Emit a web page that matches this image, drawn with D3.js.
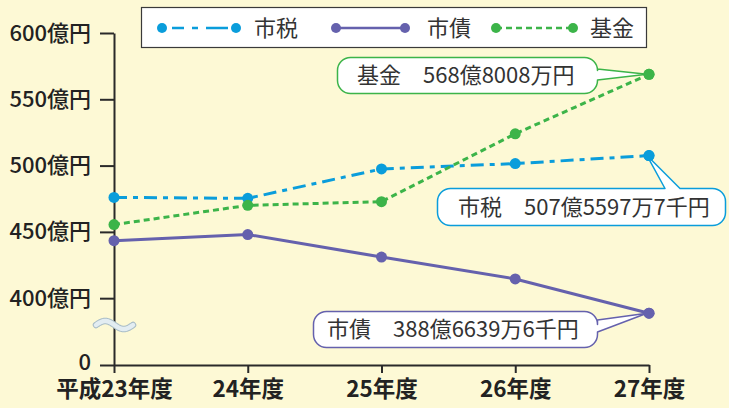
<!DOCTYPE html>
<html>
<head>
<meta charset="utf-8">
<script src="https://cdn.jsdelivr.net/npm/d3@7"></script>
<style>
  body { margin: 0; background: #fdf9d5; }
  svg { display: block; font-family: "Noto Sans CJK JP", "Noto Sans", sans-serif; }
</style>
</head>
<body>
<div id="chart"></div>
<script>
// data
let categories = ["平成23年度", "24年度", "25年度", "26年度", "27年度"];
let taxValues = [476, 475.3, 497.5, 501.5, 507.56];     // 市税
let bondValues = [443.4, 448, 431, 414.5, 388.66];     // 市債
let fundValues = [455.5, 470, 472.8, 524, 568.8];      // 基金
let yTicks = [0, 400, 450, 500, 550, 600];
let seriesNames = ["市税", "市債", "基金"];
let calloutTexts = ["市税\u3000507億5597万7千円", "市債\u3000388億6639万6千円", "基金\u3000568億8008万円"];

let W = 729, H = 408;
let COLORS = { "市税": "#0a9ddb", "市債": "#6561ad", "基金": "#3cb449" };
let DASHES = { "市税": "13,6,5,6", "市債": null, "基金": "6,4" };
let FONT = "\"Noto Sans CJK JP\", sans-serif";

let svg = d3.select("#chart").append("svg")
    .attr("width", W)
    .attr("height", H);

svg.append("rect").attr("width", W).attr("height", H).attr("fill", "#fdf9d5");

// scales, with a broken axis: 0 at the bottom, the real scale starting at the break (~380)
let x = d3.scalePoint().domain(categories).range([114, 649]);
let y = d3.scaleLinear().domain([0, 380, 600]).range([365, 324.7, 33]);

// y axis
let yAxis = svg.append("g")
    .attr("transform", "translate(114,0)")
    .call(d3.axisLeft(y)
        .tickValues(yTicks)
        .tickSize(14)
        .tickSizeOuter(0)
        .tickPadding(9)
        .tickFormat(d => d === 0 ? "0" : d + "億円"));
yAxis.select(".domain").attr("stroke", "#2a2a2a").attr("stroke-width", 2);
yAxis.selectAll(".tick line").attr("stroke", "#2a2a2a").attr("stroke-width", 2);
yAxis.selectAll(".tick text")
    .attr("fill", "#222")
    .attr("font-size", 22)
    .attr("font-weight", 500)
    .attr("font-family", FONT);
// the "0" label sits a touch higher so it clears the category labels
yAxis.selectAll(".tick text").filter(d => d === 0).attr("dy", "0.2em");

// x axis
let xAxis = svg.append("g")
    .attr("transform", "translate(0,365)")
    .call(d3.axisBottom(x).tickSize(8).tickSizeOuter(0).tickPadding(8));
xAxis.select(".domain").attr("stroke", "#2a2a2a").attr("stroke-width", 2);
xAxis.selectAll(".tick line").attr("stroke", "#2a2a2a").attr("stroke-width", 2);
xAxis.selectAll(".tick text")
    .attr("fill", "#222")
    .attr("font-size", 22.5)
    .attr("font-weight", "bold")
    .attr("font-family", FONT);

// axis break mark
let wave = d3.range(0, 37.5, 0.5).map(t => [96 + t, 325 - 4 * Math.sin(t / 37 * 2 * Math.PI)]);
let waveLine = d3.line();
svg.append("path").attr("d", waveLine(wave))
    .attr("fill", "none").attr("stroke", "#a9bdc7").attr("stroke-width", 6.5)
    .attr("stroke-linecap", "round");
svg.append("path").attr("d", waveLine(wave))
    .attr("fill", "none").attr("stroke", "#e3edf2").attr("stroke-width", 4.5)
    .attr("stroke-linecap", "round");

// series
let series = [
    { name: "市税", values: taxValues },
    { name: "市債", values: bondValues },
    { name: "基金", values: fundValues }
];

let line = d3.line()
    .x((d, i) => x(categories[i]))
    .y(d => y(d));

let seriesGroups = svg.append("g").selectAll("g")
    .data(series)
    .join("g");

seriesGroups.append("path")
    .attr("d", d => line(d.values))
    .attr("fill", "none")
    .attr("stroke", d => COLORS[d.name])
    .attr("stroke-width", 3)
    .attr("stroke-dasharray", d => DASHES[d.name]);

seriesGroups.selectAll("circle")
    .data(d => d.values.map((v, i) => ({ name: d.name, v: v, i: i })))
    .join("circle")
    .attr("cx", d => x(categories[d.i]))
    .attr("cy", d => y(d.v))
    .attr("r", 5.5)
    .attr("fill", d => COLORS[d.name]);

// legend
let legend = svg.append("g");
legend.append("rect")
    .attr("x", 141.5).attr("y", 7.5)
    .attr("width", 505).attr("height", 40)
    .attr("fill", "#fff")
    .attr("stroke", "#3a3a3a")
    .attr("stroke-width", 1.2);

let legendItems = [
    { name: seriesNames[0], x0: 162, x1: 236, tx: 254 },
    { name: seriesNames[1], x0: 336, x1: 405, tx: 427 },
    { name: seriesNames[2], x0: 496, x1: 573, tx: 590 }
];
legendItems.forEach(item => {
    let g = legend.append("g");
    g.append("line")
        .attr("x1", item.x0).attr("x2", item.x1)
        .attr("y1", 28).attr("y2", 28)
        .attr("stroke", COLORS[item.name])
        .attr("stroke-width", 2.5)
        .attr("stroke-dasharray", item.name === "市税" ? "0,10,12,8,6,8,12" : DASHES[item.name]);
    g.selectAll("circle")
        .data([item.x0, item.x1])
        .join("circle")
        .attr("cx", d => d).attr("cy", 28).attr("r", 5)
        .attr("fill", COLORS[item.name]);
    g.append("text")
        .attr("x", item.tx).attr("y", 28)
        .attr("dy", "0.36em")
        .attr("font-size", 22)
        .attr("fill", "#333")
        .text(item.name);
});

// callouts: rounded box with a pointer to the last point of each series
function calloutPath(b, tip) {
    let r = 13;
    let x0 = b.x, y0 = b.y, x1 = b.x + b.w, y1 = b.y + b.h;
    let p = d3.path();
    if (b.side === "top") {
        p.moveTo(x0 + r, y0);
        p.lineTo(b.a, y0);
        p.lineTo(tip[0], tip[1]);
        p.lineTo(b.b, y0);
        p.lineTo(x1 - r, y0);
        p.arcTo(x1, y0, x1, y0 + r, r);
        p.lineTo(x1, y1 - r);
    } else {
        p.moveTo(x0 + r, y0);
        p.lineTo(x1 - r, y0);
        p.arcTo(x1, y0, x1, y0 + r, r);
        p.lineTo(x1, b.a);
        p.lineTo(tip[0], tip[1]);
        p.lineTo(x1, b.b);
        p.lineTo(x1, y1 - r);
    }
    p.arcTo(x1, y1, x1 - r, y1, r);
    p.lineTo(x0 + r, y1);
    p.arcTo(x0, y1, x0, y1 - r, r);
    p.lineTo(x0, y0 + r);
    p.arcTo(x0, y0, x0 + r, y0, r);
    p.closePath();
    return p.toString();
}

let callouts = [
    { name: "市税", text: calloutTexts[0], box: { x: 437.5, y: 188.5, w: 288, h: 37, side: "top", a: 665, b: 680 }, tx: 458 },
    { name: "市債", text: calloutTexts[1], box: { x: 313.5, y: 311.5, w: 284, h: 36, side: "right", a: 320, b: 332 }, tx: 327 },
    { name: "基金", text: calloutTexts[2], box: { x: 337.5, y: 57.5, w: 260, h: 36, side: "right", a: 69, b: 80 }, tx: 357 }
];

callouts.forEach(c => {
    let s = series.find(d => d.name === c.name);
    let last = s.values.length - 1;
    let tip = [x(categories[last]) - 2, y(s.values[last])];
    let g = svg.append("g");
    g.append("path")
        .attr("d", calloutPath(c.box, tip))
        .attr("fill", "#fff")
        .attr("stroke", COLORS[c.name])
        .attr("stroke-width", 1.5)
        .attr("stroke-linejoin", "round");
    g.append("text")
        .attr("x", c.tx)
        .attr("y", c.box.y + c.box.h / 2)
        .attr("dy", "0.36em")
        .attr("font-size", 22)
        .attr("fill", "#333")
        .text(c.text);
    // redraw the end point above the callout pointer
    g.append("circle")
        .attr("cx", x(categories[last]))
        .attr("cy", y(s.values[last]))
        .attr("r", 5.5)
        .attr("fill", COLORS[c.name]);
});
</script>
</body>
</html>
